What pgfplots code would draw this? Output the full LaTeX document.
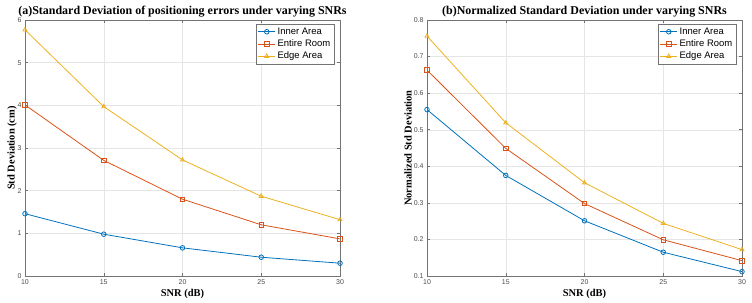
\documentclass[border=0pt]{standalone}
\usepackage{fontspec}
\setmainfont{Liberation Serif}
\newfontfamily\arial{Liberation Sans}
\usepackage{pgfplots}
\pgfplotsset{compat=1.18}

\definecolor{mblue}{rgb}{0,0.447,0.741}
\definecolor{morange}{rgb}{0.85,0.325,0.098}
\definecolor{myellow}{rgb}{0.929,0.694,0.125}

\pgfplotsset{
  snr/.style={
    scale only axis, width=315bp, height=256bp,
    xmin=10, xmax=30, xtick={10,15,...,30},
    grid=major, major grid style={draw=black!10, line width=0.4bp},
    axis line style={draw=black!55, line width=0.5bp},
    tick style={draw=black!55, line width=0.5bp}, major tick length=3bp,
    tick align=inside,
    ticklabel style={font=\arial\fontsize{7}{8}\selectfont, text=black!70},
    /pgf/number format/assume math mode=true,
    xlabel={SNR (dB)},
    label style={font=\fontsize{10.5}{12}\selectfont\bfseries},
    xlabel style={at={(axis description cs:0.5,0)}, anchor=center, yshift=-18bp},
    title style={font=\fontsize{12}{14}\selectfont\bfseries, at={(axis description cs:0.5,1)}, anchor=center, yshift=2bp},
    legend style={font=\arial\fontsize{9.5}{11}\selectfont, at={(1,1)}, anchor=north east,
      xshift=-6bp, yshift=-4bp, draw=black!55, line width=0.5bp, inner sep=1.5bp, row sep=0bp},
    legend cell align=left,
    every axis plot/.append style={line width=0.8bp, mark size=2.3bp},
  }
}

\begin{document}
\begin{tikzpicture}
\useasboundingbox (0,0) rectangle (752bp,303bp);

% (a) absolute standard deviation
\begin{axis}[snr, at={(25bp,27bp)}, anchor=south west,
  ymin=0, ymax=6, ytick={0,1,...,6},
  ylabel={Std Deviation (cm)},
  ylabel style={at={(axis description cs:0,0.5)}, anchor=center, yshift=13bp},
  title={(a)Standard Deviation of positioning errors under varying SNRs}]
\addplot[mblue, mark=o] coordinates {(10,1.46) (15,0.98) (20,0.66) (25,0.44) (30,0.30)};
\addplot[morange, mark=square] coordinates {(10,4.01) (15,2.71) (20,1.80) (25,1.20) (30,0.87)};
\addplot[myellow, mark=triangle] coordinates {(10,5.77) (15,3.97) (20,2.72) (25,1.87) (30,1.32)};
\legend{Inner Area, Entire Room, Edge Area}
\end{axis}

% (b) normalized standard deviation
\begin{axis}[snr, at={(427bp,27bp)}, anchor=south west,
  ymin=0.1, ymax=0.8, ytick={0.1,0.2,...,0.8},
  yticklabel style={/pgf/number format/.cd, fixed, precision=1, fixed zerofill},
  ylabel={Normalized Std Deviation},
  ylabel style={at={(axis description cs:0,0.5)}, anchor=center, yshift=19bp},
  title={(b)Normalized Standard Deviation under varying SNRs}]
\addplot[mblue, mark=o] coordinates {(10,0.555) (15,0.375) (20,0.251) (25,0.165) (30,0.112)};
\addplot[morange, mark=square] coordinates {(10,0.663) (15,0.449) (20,0.298) (25,0.199) (30,0.142)};
\addplot[myellow, mark=triangle] coordinates {(10,0.756) (15,0.519) (20,0.355) (25,0.244) (30,0.172)};
\legend{Inner Area, Entire Room, Edge Area}
\end{axis}
\end{tikzpicture}
\end{document}
